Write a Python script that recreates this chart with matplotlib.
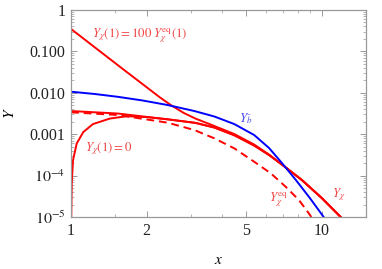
import numpy as np
import matplotlib
matplotlib.use('Agg')
import matplotlib.pyplot as plt
from matplotlib.ticker import FixedLocator, NullFormatter

plt.rcParams['font.family'] = ['Liberation Serif', 'DejaVu Serif']
plt.rcParams['mathtext.fontset'] = 'stix'

# Y_bbar (blue)
x_b = [1.0, 1.245, 1.537, 1.931, 2.427, 3.105, 3.728, 4.477, 5.373, 6.163,
       6.939, 7.885, 8.962, 10.18]
y_b = [0.01063, 0.00935, 0.0080, 0.00652, 0.00507, 0.00363, 0.00268, 0.00176,
       0.000957, 0.000464, 0.000201, 7.83e-5, 2.88e-5, 1.0e-5]

# Y_chi with Y_chi(1) = 100 Y_eq(1)
x_hi = [1.0, 1.268, 1.608, 2.021, 2.256, 2.516, 2.808, 3.133, 3.728, 4.477,
        5.373, 6.163, 6.939, 8.331, 10.0, 11.90]
y_hi = [0.3475, 0.1143, 0.0376, 0.01306, 0.00783, 0.00493, 0.00329, 0.00239,
        0.00158, 0.00101, 0.000564, 0.000321, 0.000185, 7.83e-5, 2.88e-5, 1.0e-5]

# Y_chi with Y_chi(1) = Y_eq(1)
x_mid = [1.0, 1.537, 2.427, 3.133, 3.728, 4.477, 5.373, 6.163, 6.939, 8.331,
         10.0, 11.90]
y_mid = [0.00363, 0.00316, 0.00229, 0.00188, 0.00145, 0.000946, 0.000533,
         0.000315, 0.000185, 7.83e-5, 2.88e-5, 1.0e-5]

# Y_chi with Y_chi(1) = 0
x_zero = [1.0018, 1.0064, 1.0184, 1.0535, 1.119, 1.223, 1.428, 1.668, 2.02,
          2.427, 3.133, 3.728, 4.477, 5.373, 6.163, 6.939, 8.331, 10.0, 11.90]
y_zero = [1.0e-5, 6.5e-5, 2.38e-4, 6.0e-4, 0.00113, 0.00176, 0.00239, 0.00272,
          0.00258, 0.00229, 0.00188, 0.00145, 0.000946, 0.000533, 0.000315,
          0.000185, 7.83e-5, 2.88e-5, 1.0e-5]

# Y_chi equilibrium (dashed)
x_eq = [1.0, 1.537, 2.427, 3.105, 3.728, 4.477, 5.373, 6.257, 7.178, 8.105,
        8.88, 9.085]
y_eq = [0.00338, 0.00291, 0.0019, 0.00126, 0.000796, 0.000456, 0.000217,
        0.000114, 5.4e-5, 2.58e-5, 1.23e-5, 1.0e-5]

x_major = [1, 2, 5, 10]
x_minor = [1.5, 3, 4, 6, 7, 8, 9, 15]
y_major = [1e-5, 1e-4, 1e-3, 1e-2, 1e-1, 1]
y_labels = ['$10^{-5}$', '$10^{-4}$', '0.001', '0.010', '0.100', '1']

fig = plt.figure(figsize=(3.82, 2.69), dpi=100)
ax = fig.add_axes([0.186, 0.193, 0.772, 0.770])

red = '#ff0000'
blue = '#0000ff'
lw = 1.4
ax.plot(x_hi, y_hi, color=red, lw=lw)
ax.plot(x_zero, y_zero, color=red, lw=lw)
ax.plot(x_mid, y_mid, color=red, lw=lw)
ax.plot(x_eq, y_eq, color=red, lw=lw, dashes=(4, 2.5))
ax.plot(x_b, y_b, color=blue, lw=lw)

ax.set_xscale('log')
ax.set_yscale('log')
ax.set_xlim(1, 15)
ax.set_ylim(1e-5, 1)

ax.xaxis.set_major_locator(FixedLocator(x_major))
ax.xaxis.set_minor_locator(FixedLocator(x_minor))
ax.xaxis.set_minor_formatter(NullFormatter())
ax.set_xticklabels([str(v) for v in x_major])
ax.yaxis.set_major_locator(FixedLocator(y_major))
ax.set_yticklabels(y_labels)

frame = '#999999'
for s in ax.spines.values():
    s.set_color(frame)
    s.set_linewidth(0.9)
ax.tick_params(which='both', direction='in', top=True, right=True,
               color=frame, labelsize=11.5, labelcolor='#222222', pad=4)
ax.tick_params(which='major', length=4, width=0.7)
ax.tick_params(which='minor', length=2, width=0.5)

ax.set_xlabel('$x$', fontsize=11, labelpad=11)
ax.set_ylabel('$Y$', fontsize=11, labelpad=9)

lab_red = '#f04848'
lab_blue = '#4848f0'
fs = 9.3
ax.text(1.21, 0.235, r'$Y_\chi(1) = 100\;Y_\chi^{\rm eq}(1)$', color=lab_red, fontsize=fs,
        va='center', ha='left')
ax.text(1.137, 4.4e-4, r'$Y_\chi(1) = 0$', color=lab_red, fontsize=fs,
        va='center', ha='left')
ax.text(4.68, 2.4e-3, r'$Y_{\bar b}$', color=lab_blue, fontsize=fs,
        va='center', ha='left')
ax.text(6.16, 2.6e-5, r'$Y_\chi^{\rm eq}$', color=lab_red, fontsize=fs,
        va='center', ha='left')
ax.text(10.97, 3.4e-5, r'$Y_\chi$', color=lab_red, fontsize=fs,
        va='center', ha='left')

fig.savefig('out.png', dpi=100)
